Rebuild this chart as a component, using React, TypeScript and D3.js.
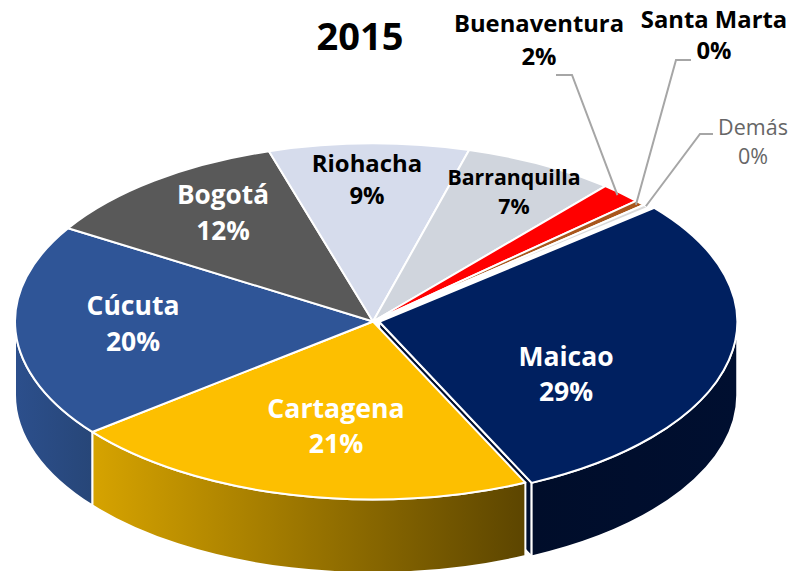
import React from "react";
import * as d3 from "d3";

const categories = ["Maicao", "Cartagena", "Cúcuta", "Bogotá", "Riohacha", "Barranquilla", "Buenaventura", "Santa Marta", "Demás"];
const values = [29.0, 21.3, 19.4, 11.5, 9.0, 6.9, 1.9, 0.5, 0.3];
const percentLabels = ["29%", "21%", "20%", "12%", "9%", "7%", "2%", "0%", "0%"];
const topColors = ["#002060", "#FDBF00", "#2F5597", "#595959", "#D6DCEC", "#D0D5DD", "#FF0000", "#A9561C", "#D9D9D9"];

const W = 791, H = 571;
const CX = 373, CY = 321.5, RX = 358, RY = 178, DEPTH = 73.5;
const START_DEG = 50.2;
const EXPLODE = 4;

const labelPos: Record<string, { x: number; y: number; size: number; fill: string; weight: number; gap: number }> = {
  Maicao: { x: 566, y: 366, size: 26.5, fill: "#fff", weight: 700, gap: 35 },
  Cartagena: { x: 336, y: 418, size: 26.7, fill: "#fff", weight: 700, gap: 35 },
  "Cúcuta": { x: 133, y: 315, size: 26.5, fill: "#fff", weight: 700, gap: 36 },
  "Bogotá": { x: 223, y: 204, size: 26.2, fill: "#fff", weight: 700, gap: 36 },
  Riohacha: { x: 367, y: 172, size: 23.9, fill: "#000", weight: 700, gap: 32 },
  Barranquilla: { x: 514, y: 185, size: 21.3, fill: "#000", weight: 700, gap: 29 },
  Buenaventura: { x: 539, y: 32, size: 23.8, fill: "#000", weight: 700, gap: 33 },
  "Santa Marta": { x: 714, y: 28, size: 23.8, fill: "#000", weight: 700, gap: 31 },
  "Demás": { x: 753, y: 135, size: 21.5, fill: "#666666", weight: 400, gap: 29 },
};
const leaderElbows: Record<string, [number, number][]> = {
  Buenaventura: [[556, 75], [572, 75]],
  "Santa Marta": [[691, 60], [676, 60]],
  "Demás": [[713, 134], [700, 134]],
};

const rad = (d: number) => (d * Math.PI) / 180;
const pie = d3.pie<number>().sort(null).startAngle(rad(START_DEG)).endAngle(rad(START_DEG + 360));
const arcs = pie(values);

const sx = d3.scaleLinear().domain([-1, 1]).range([-RX, RX]);
const sy = d3.scaleLinear().domain([-1, 1]).range([-RY, RY]);

const pt = (a: number, ox: number, oy: number, k = 1): [number, number] => [
  ox + sx(Math.sin(a) * k),
  oy + sy(-Math.cos(a) * k),
];
const arcSeg = (a0: number, a1: number, ox: number, oy: number, sweep: 0 | 1) => {
  const [x, y] = pt(a1, ox, oy);
  const large = Math.abs(a1 - a0) > Math.PI ? 1 : 0;
  return `A${RX},${RY} 0 ${large} ${sweep} ${x},${y}`;
};

function offsetOf(i: number): [number, number] {
  if (i !== 0) return [0, 0];
  const m = (arcs[0].startAngle + arcs[0].endAngle) / 2;
  return [Math.sin(m) * EXPLODE * 1.6, -Math.cos(m) * EXPLODE * 0.35];
}

function topPath(i: number) {
  const a = arcs[i];
  const [ox, oy] = offsetOf(i);
  const s = pt(a.startAngle, CX + ox, CY + oy);
  return `M${CX + ox},${CY + oy}L${s[0]},${s[1]}${arcSeg(a.startAngle, a.endAngle, CX + ox, CY + oy, 1)}Z`;
}
function wallPath(i: number) {
  const a = arcs[i];
  const [ox, oy] = offsetOf(i);
  const lo = rad(90), hi = rad(270);
  const ranges: [number, number][] = [];
  for (const shift of [0, 2 * Math.PI]) {
    const a0 = Math.max(a.startAngle - shift, lo), a1 = Math.min(a.endAngle - shift, hi);
    if (a1 > a0) ranges.push([a0, a1]);
  }
  return ranges.map(([a0, a1]) => {
    const p = pt(a0, CX + ox, CY + oy);
    const q = pt(a1, CX + ox, CY + oy + DEPTH);
    return `M${p[0]},${p[1]}${arcSeg(a0, a1, CX + ox, CY + oy, 1)}L${q[0]},${q[1]}${arcSeg(a1, a0, CX + ox, CY + oy + DEPTH, 0)}Z`;
  }).join("");
}
function radialWall(i: number) {
  const a = arcs[i];
  const [ox, oy] = offsetOf(i);
  const q = pt(a.endAngle, CX + ox, CY + oy);
  const cx = CX + ox, cy = CY + oy;
  return `M${cx},${cy}L${q[0]},${q[1]}L${q[0]},${q[1] + DEPTH}L${cx},${cy + DEPTH}Z`;
}

export default function App() {
  const order = [0, 1, 2, 3, 4, 5, 6, 7, 8];
  const leaderEnds: Record<string, number> = { Buenaventura: 0.985, "Santa Marta": 0.985, "Demás": 1.0 };
  return (
    <svg width={W} height={H} style={{ position: "absolute", left: 0, top: 0 }} fontFamily="'Open Sans', sans-serif">
      <defs>
        <linearGradient id="wall-0" gradientUnits="userSpaceOnUse" x1={530} x2={737} y1={0} y2={0}>
          <stop offset="0" stopColor="#000D2A" />
          <stop offset="1" stopColor="#000F30" />
        </linearGradient>
        <linearGradient id="wall-1" gradientUnits="userSpaceOnUse" x1={93} x2={526} y1={0} y2={0}>
          <stop offset="0" stopColor="#D6A300" />
          <stop offset="1" stopColor="#5C4500" />
        </linearGradient>
        <linearGradient id="wall-2" gradientUnits="userSpaceOnUse" x1={15} x2={93} y1={0} y2={0}>
          <stop offset="0" stopColor="#2C4F8C" />
          <stop offset="1" stopColor="#274678" />
        </linearGradient>
      </defs>
      <path d={radialWall(0)} fill="#000F30" stroke="#fff" strokeWidth={2} />
      {order.map((i) => {
        const d = wallPath(i);
        return d ? <path key={"w" + i} d={d} fill={`url(#wall-${i})`} stroke="#fff" strokeWidth={2} strokeLinejoin="round" /> : null;
      })}
      {order.map((i) => (
        <path key={"t" + i} d={topPath(i)} fill={topColors[i]} stroke="#fff" strokeWidth={2} strokeLinejoin="round" />
      ))}
      {Object.keys(leaderElbows).map((name) => {
        const i = categories.indexOf(name);
        const a = arcs[i];
        const end = pt((a.startAngle + a.endAngle) / 2, CX, CY, leaderEnds[name]);
        const line = d3.line();
        return <path key={name} d={line([...leaderElbows[name], end]) ?? ""} fill="none" stroke="#A6A6A6" strokeWidth={2} />;
      })}
      <text x={360} y={50} textAnchor="middle" fontSize={38} fontWeight={700} fill="#000">2015</text>
      {categories.map((c, i) => {
        const l = labelPos[c];
        return (
          <text key={c} textAnchor="middle" fontSize={l.size} fontWeight={l.weight} fill={l.fill}>
            <tspan x={l.x} y={l.y}>{c}</tspan>
            <tspan x={l.x} y={l.y + l.gap}>{percentLabels[i]}</tspan>
          </text>
        );
      })}
    </svg>
  );
}
